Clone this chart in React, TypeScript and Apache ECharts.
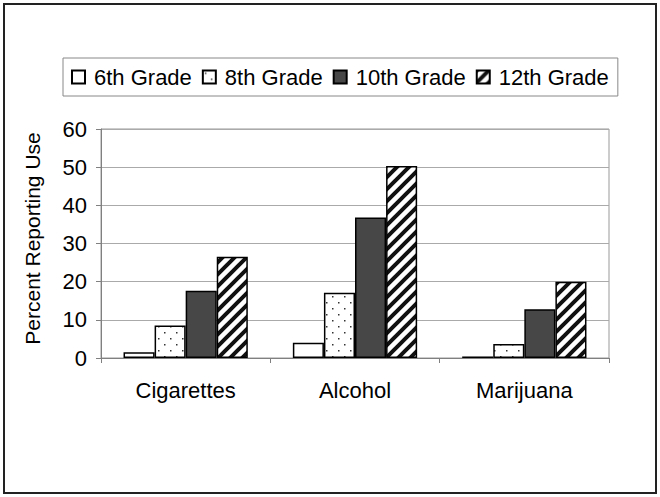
import React, { useEffect, useRef } from "react";
import * as echarts from "echarts";

const categories = ["Cigarettes", "Alcohol", "Marijuana"];
const seriesNames = ["6th Grade", "8th Grade", "10th Grade", "12th Grade"];
const grade6 = [1.5, 4.0, 0.4];
const grade8 = [8.5, 17.1, 3.7];
const grade10 = [17.6, 36.8, 12.8];
const grade12 = [26.5, 50.3, 20.0];
const yMin = 0;
const yMax = 60;
const yInterval = 10;
const yTitle = "Percent Reporting Use";

const FONT = "'Liberation Sans', Arial, sans-serif";

function makeTile(size: number, draw: (ctx: CanvasRenderingContext2D) => void) {
  const c = document.createElement("canvas");
  c.width = size;
  c.height = size;
  const ctx = c.getContext("2d") as CanvasRenderingContext2D;
  ctx.fillStyle = "#ffffff";
  ctx.fillRect(0, 0, size, size);
  draw(ctx);
  return c;
}

export default function App() {
  const ref = useRef<HTMLDivElement>(null);

  useEffect(() => {
    if (!ref.current) return;
    const chart = echarts.init(ref.current, null, { renderer: "svg" });

    const dots = makeTile(12, (ctx) => {
      ctx.fillStyle = "#333";
      ctx.fillRect(2, 2, 1.5, 1.5);
      ctx.fillRect(8, 8, 1.5, 1.5);
    });
    const hatch = makeTile(12, (ctx) => {
      ctx.strokeStyle = "#111";
      ctx.lineWidth = 4;
      ctx.beginPath();
      ctx.moveTo(-3, 15);
      ctx.lineTo(15, -3);
      ctx.moveTo(-9, 9);
      ctx.lineTo(9, -9);
      ctx.moveTo(3, 21);
      ctx.lineTo(21, 3);
      ctx.stroke();
    });

    const fills: any[] = [
      "#ffffff",
      { image: dots, repeat: "repeat", imageWidth: 12, imageHeight: 12 },
      "#474747",
      { image: hatch, repeat: "repeat", imageWidth: 12, imageHeight: 12 },
    ];
    const datas = [grade6, grade8, grade10, grade12];

    chart.setOption({
      animation: false,
      backgroundColor: "#ffffff",
      textStyle: { fontFamily: FONT, color: "#000" },
      graphic: [
        {
          type: "rect",
          shape: { x: 4, y: 4, width: 652, height: 489 },
          style: { fill: "none", stroke: "#222", lineWidth: 2 },
          silent: true,
        },
      ],
      legend: {
        left: 63,
        top: 58,
        orient: "horizontal",
        padding: [8, 9, 8, 8],
        borderColor: "#888",
        borderWidth: 1,
        itemWidth: 13,
        itemHeight: 13,
        itemGap: 10,
        icon: "rect",
        textStyle: { fontSize: 22, fontFamily: FONT, color: "#000", padding: [0, 0, 0, 4] },
        data: seriesNames,
      },
      grid: {
        left: 101,
        right: 51,
        top: 129,
        bottom: 139,
        show: true,
        borderColor: "#999",
        borderWidth: 1,
        containLabel: false,
      },
      xAxis: {
        type: "category",
        data: categories,
        axisLine: { show: true, lineStyle: { color: "#808080", width: 1 } },
        axisTick: { show: true, alignWithLabel: false, length: 5, lineStyle: { color: "#808080" } },
        axisLabel: { fontSize: 22, fontFamily: FONT, color: "#000", margin: 21 },
        splitLine: { show: false },
      },
      yAxis: {
        type: "value",
        min: yMin,
        max: yMax,
        interval: yInterval,
        name: yTitle,
        nameLocation: "middle",
        nameGap: 58,
        nameTextStyle: { fontSize: 21, fontFamily: FONT, color: "#000", padding: [0, 0, 0, 10] },
        axisLine: { show: true, lineStyle: { color: "#808080", width: 1 } },
        axisTick: { show: true, length: 5, lineStyle: { color: "#808080" } },
        axisLabel: { fontSize: 22, fontFamily: FONT, color: "#000", margin: 14 },
        splitLine: { show: true, lineStyle: { color: "#aaaaaa", width: 1 } },
      },
      series: seriesNames.map((name, i) => ({
        name,
        type: "bar",
        data: datas[i],
        barGap: "0%",
        barCategoryGap: "26.6%",
        itemStyle: { color: fills[i], borderColor: "#000", borderWidth: 1.5 },
      })),
    });

    return () => chart.dispose();
  }, []);

  return (
    <div
      ref={ref}
      style={{ position: "fixed", left: 0, top: 0, width: 660, height: 497, background: "#fff" }}
    />
  );
}
